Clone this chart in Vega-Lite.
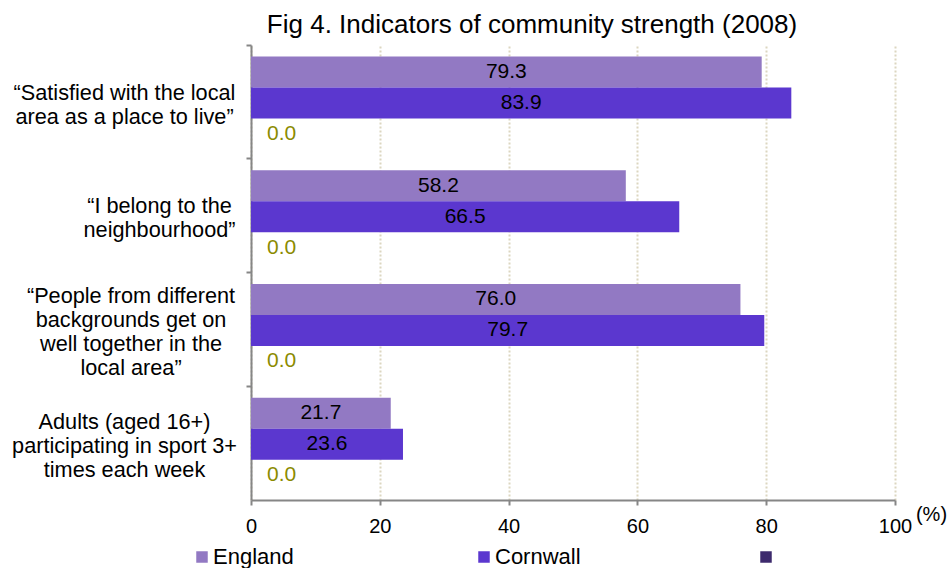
{
  "$schema": "https://vega.github.io/schema/vega-lite/v6.json",
  "width": 644,
  "height": 455,
  "autosize": "none",
  "padding": {"left": 251, "top": 45, "right": 56, "bottom": 68},
  "background": "white",
  "config": {"font": "Liberation Sans", "view": {"stroke": null}},
  "title": {"text": "Fig 4. Indicators of community strength (2008)", "fontSize": 26, "fontWeight": "normal", "color": "black", "anchor": "middle", "dx": -41, "dy": 22, "offset": 7, "baseline": "alphabetic"},
  "data": {"values": [
    {"indicator": "“Satisfied with the local area as a place to live”", "series": "England", "value": 79.3},
    {"indicator": "“Satisfied with the local area as a place to live”", "series": "Cornwall", "value": 83.9},
    {"indicator": "“Satisfied with the local area as a place to live”", "series": "Blank", "value": 0},
    {"indicator": "“I belong to the neighbourhood”", "series": "England", "value": 58.2},
    {"indicator": "“I belong to the neighbourhood”", "series": "Cornwall", "value": 66.5},
    {"indicator": "“I belong to the neighbourhood”", "series": "Blank", "value": 0},
    {"indicator": "“People from different backgrounds get on well together in the local area”", "series": "England", "value": 76.0},
    {"indicator": "“People from different backgrounds get on well together in the local area”", "series": "Cornwall", "value": 79.7},
    {"indicator": "“People from different backgrounds get on well together in the local area”", "series": "Blank", "value": 0},
    {"indicator": "Adults (aged 16+) participating in sport 3+ times each week", "series": "England", "value": 21.7},
    {"indicator": "Adults (aged 16+) participating in sport 3+ times each week", "series": "Cornwall", "value": 23.6},
    {"indicator": "Adults (aged 16+) participating in sport 3+ times each week", "series": "Blank", "value": 0}
  ]},
  "encoding": {
    "yOffset": {"field": "series", "type": "nominal", "sort": ["England", "Cornwall", "Blank"], "scale": {"domain": ["England", "Cornwall", "Blank"], "paddingInner": 0, "paddingOuter": 0.335, "align": 0.55}}
  },
  "layer": [
    {
      "mark": {"type": "bar"},
      "encoding": {
        "y": {
          "field": "indicator", "type": "nominal", "sort": null,
          "scale": {"paddingInner": 0, "paddingOuter": 0},
          "axis": {
            "title": null, "orient": "left",
            "domainColor": "#868686", "domainWidth": 2,
            "ticks": false,
            "labelAlign": "center", "labelFontSize": 21.7, "labelColor": "black",
            "labelLineHeight": 24, "labelLimit": 0,
            "labelPadding": {"condition": [
              {"test": "datum.value === '“I belong to the neighbourhood”'", "value": 92},
              {"test": "datum.value === '“People from different backgrounds get on well together in the local area”'", "value": 120.5}
            ], "value": 127},
            "labelOffset": {"condition": [
              {"test": "datum.value === '“People from different backgrounds get on well together in the local area”'", "value": -33.25},
              {"test": "datum.value === 'Adults (aged 16+) participating in sport 3+ times each week'", "value": -21.25}
            ], "value": -9.25},
            "labelExpr": "datum.value === '“Satisfied with the local area as a place to live”' ? ['“Satisfied with the local', 'area as a place to live”'] : datum.value === '“I belong to the neighbourhood”' ? ['“I belong to the', 'neighbourhood”'] : datum.value === '“People from different backgrounds get on well together in the local area”' ? ['“People from different', 'backgrounds get on', 'well together in the', 'local area”'] : ['Adults (aged 16+)', 'participating in sport 3+', 'times each week']"
          }
        },
        "x": {
          "field": "value", "type": "quantitative",
          "scale": {"domain": [0, 100], "nice": false},
          "axis": {
            "title": "(%)", "titleX": 680, "titleY": 14, "titleAlign": "center", "titleBaseline": "middle",
            "titleFontSize": 20, "titleFontWeight": "normal", "titleColor": "black",
            "values": [0, 20, 40, 60, 80, 100], "format": "d", "labelFlush": false,
            "grid": true, "gridColor": "#DCD6C0", "gridDash": [2, 2], "gridWidth": 2,
            "domainColor": "#868686", "domainWidth": 2,
            "tickColor": "#868686", "tickWidth": 2, "tickSize": 5,
            "labelFontSize": 20, "labelColor": "black", "labelPadding": 11
          }
        },
        "color": {
          "field": "series", "type": "nominal",
          "scale": {"domain": ["England", "Cornwall", "Blank"], "range": ["#9279C3", "#5B37CF", "#3D2A6D"]},
          "legend": {
            "orient": "none", "legendX": -60, "legendY": 501, "direction": "horizontal", "title": null,
            "symbolType": "square", "symbolSize": 132, "symbolStrokeWidth": 0,
            "labelFontSize": 22, "labelOffset": 0, "columnPadding": 174, "gridAlign": "all", "labelColor": "black",
            "labelExpr": "datum.label === 'Blank' ? '' : datum.label"
          }
        }
      }
    },
    {
      "mark": {"type": "text", "text": ""},
      "encoding": {
        "y": {
          "field": "indicator", "type": "nominal", "sort": null,
          "axis": {
            "title": null, "orient": "left", "labels": false, "domain": false, "grid": false,
            "ticks": true, "bandPosition": 0, "tickColor": "#868686", "tickWidth": 2, "tickSize": 5
          }
        }
      }
    },
    {
      "transform": [{"filter": "datum.series !== 'Blank'"}],
      "mark": {"type": "text", "fontSize": 21, "color": "black"},
      "encoding": {
        "y": {"field": "indicator", "type": "nominal", "sort": null, "axis": null},
        "x": {"field": "value", "type": "quantitative", "scale": {"domain": [0, 200], "nice": false}, "axis": null},
        "text": {"field": "value", "type": "quantitative", "format": ".1f"}
      }
    },
    {
      "transform": [{"filter": "datum.series === 'Blank'"}],
      "mark": {"type": "text", "fontSize": 21, "color": "#8B8B00", "align": "left", "dx": 16},
      "encoding": {
        "y": {"field": "indicator", "type": "nominal", "sort": null, "axis": null},
        "x": {"field": "value", "type": "quantitative", "scale": {"domain": [0, 200], "nice": false}, "axis": null},
        "text": {"field": "value", "type": "quantitative", "format": ".1f"}
      }
    }
  ],
  "resolve": {"scale": {"x": "independent"}, "axis": {"y": "independent"}}
}
